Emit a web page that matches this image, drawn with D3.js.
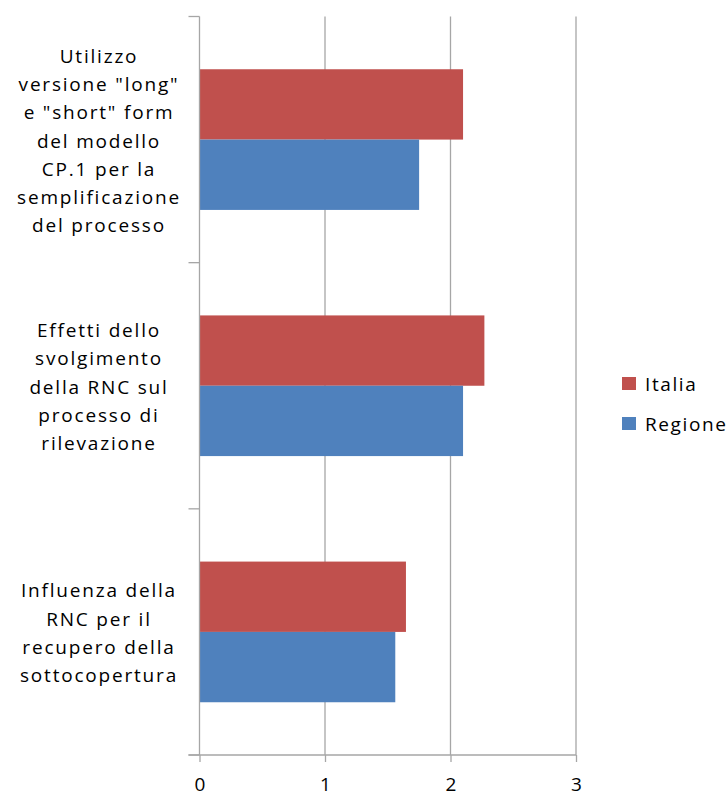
<!DOCTYPE html>
<html>
<head>
<meta charset="utf-8">
<script src="https://cdn.jsdelivr.net/npm/d3@7"></script>
<style>
  body { margin: 0; background: #fff; }
  text { font-family: "Open Sans", "Liberation Sans", sans-serif; fill: #000; }
</style>
</head>
<body>
<svg id="chart" width="728" height="796"></svg>
<script>
// categories top to bottom, each as wrapped label lines
const categories = [
    ["Utilizzo", "versione \"long\"", "e \"short\" form", "del modello", "CP.1 per la", "semplificazione", "del processo"],
    ["Effetti dello", "svolgimento", "della RNC sul", "processo di", "rilevazione"],
    ["Influenza della", "RNC per il", "recupero della", "sottocopertura"]
];
const seriesNames = ["Italia", "Regione"];
const italia = [2.1, 2.27, 1.645];
const regione = [1.75, 2.1, 1.56];
const xTicks = [0, 1, 2, 3];
const colors = { Italia: "#C0504D", Regione: "#4F81BD" };

const svg = d3.select("#chart");
const plotLeft = 199.5, plotRight = 576, plotTop = 16.5, plotBottom = 755;

const x = d3.scaleLinear().domain([0, 3]).range([plotLeft, plotRight]);
const y = d3.scaleBand().domain(d3.range(categories.length)).range([plotTop, plotBottom]).paddingInner(0).paddingOuter(0);
// inner band for the two series, 150% gap width like the original
const ySub = d3.scaleBand().domain(seriesNames).range([0, y.bandwidth()]).paddingOuter(0.75).paddingInner(0);

// vertical gridlines
svg.append("g").selectAll("line")
    .data(xTicks.slice(1))
    .join("line")
    .attr("x1", d => x(d)).attr("x2", d => x(d))
    .attr("y1", plotTop).attr("y2", plotBottom)
    .attr("stroke", "#a6a6a6").attr("stroke-width", 1.3);

// bars
const rows = categories.map((c, i) => ({ i, Italia: italia[i], Regione: regione[i] }));
const grp = svg.append("g").selectAll("g")
    .data(rows)
    .join("g")
    .attr("transform", d => `translate(0,${y(d.i)})`);
grp.selectAll("rect")
    .data(d => seriesNames.map(s => ({ s, v: d[s] })))
    .join("rect")
    .attr("x", x(0))
    .attr("y", d => ySub(d.s))
    .attr("width", d => x(d.v) - x(0))
    .attr("height", ySub.bandwidth())
    .attr("fill", d => colors[d.s]);

// left axis line with category ticks
const axisColor = "#a6a6a6";
svg.append("line")
    .attr("x1", plotLeft).attr("x2", plotLeft).attr("y1", plotTop).attr("y2", plotBottom)
    .attr("stroke", axisColor).attr("stroke-width", 1.3);
svg.append("g").selectAll("line")
    .data(d3.range(categories.length + 1))
    .join("line")
    .attr("x1", plotLeft - 11).attr("x2", plotLeft)
    .attr("y1", d => plotTop + d * y.step()).attr("y2", d => plotTop + d * y.step())
    .attr("stroke", axisColor).attr("stroke-width", 1.3);

// bottom axis
const xAxis = d3.axisBottom(x).tickValues(xTicks).tickSize(7).tickFormat(d3.format("d"));
const gx = svg.append("g").attr("transform", `translate(0,${plotBottom})`).call(xAxis);
gx.select(".domain").remove();
gx.selectAll(".tick line").attr("stroke", axisColor).attr("stroke-width", 1.3);
gx.selectAll(".tick text")
    .attr("y", 36).attr("dy", 0)
    .style("font-size", "19px")
    .style("font-family", "\"Open Sans\", sans-serif")
    .attr("fill", "#000");
svg.append("line")
    .attr("x1", plotLeft - 11).attr("x2", plotRight).attr("y1", plotBottom).attr("y2", plotBottom)
    .attr("stroke", axisColor).attr("stroke-width", 1.3);

// category labels
const lineH = 28.3;
svg.append("g").selectAll("text")
    .data(categories)
    .join("text")
    .attr("text-anchor", "middle")
    .style("font-size", "19px")
    .style("letter-spacing", "1.8px")
    .each(function (lines, i) {
        const cy = y(i) + y.bandwidth() / 2;
        const first = cy - (lines.length - 1) / 2 * lineH + 8;
        d3.select(this).selectAll("tspan")
            .data(lines)
            .join("tspan")
            .attr("x", 99)
            .attr("y", (d, k) => first + k * lineH)
            .text(d => d);
    });

// legend
const legend = svg.append("g").selectAll("g")
    .data(seriesNames)
    .join("g")
    .attr("transform", (d, i) => `translate(622,${377 + i * 40})`);
legend.append("rect")
    .attr("width", 14).attr("height", 13)
    .attr("fill", d => colors[d]);
legend.append("text")
    .attr("x", 23).attr("y", 14)
    .style("font-size", "19px")
    .style("letter-spacing", "1.6px")
    .text(d => d);
</script>
</body>
</html>
